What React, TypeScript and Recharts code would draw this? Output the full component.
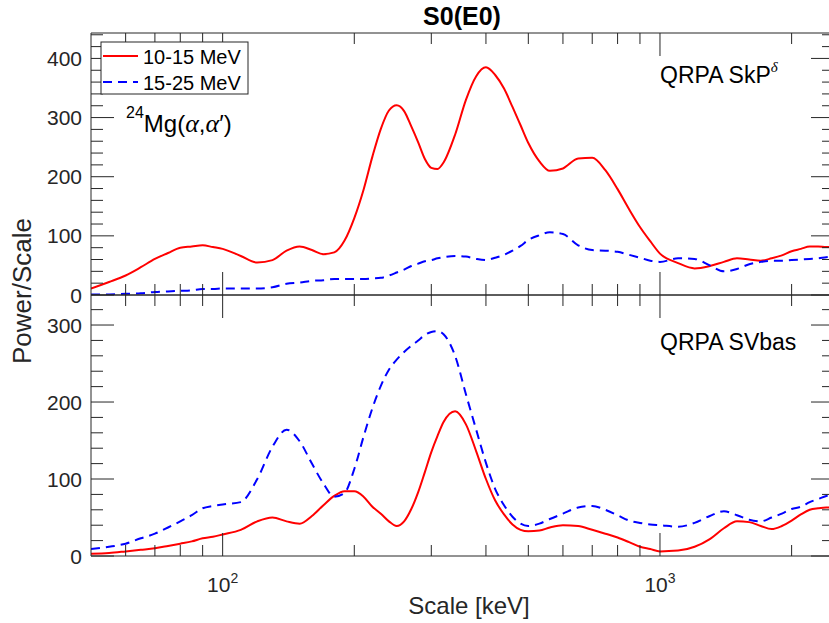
import { LineChart, Line, XAxis, YAxis } from 'recharts';

// scale axis (keV), shared by both panels
const scaleKeV = [
  50, 55, 60, 65, 70, 75, 80, 85, 90, 95,
  100, 110, 120, 130, 140, 150, 160, 170, 180, 190,
  200, 210, 220, 230, 240, 250, 260, 270, 280, 290,
  300, 310, 320, 340, 360, 380, 400, 420, 440, 460,
  480, 500, 530, 560, 600, 650, 700, 750, 800, 850,
  900, 950, 1000, 1100, 1200, 1300, 1400, 1500, 1600, 1700,
  1800, 1900, 2000, 2100, 2200, 2300, 2400, 2500,
];

// QRPA SkP^delta panel
const skpLow = [
  11, 22, 33, 47, 61, 71, 80, 82, 84, 81,
  78, 66, 55, 59, 75, 82, 76, 69, 72, 92,
  130, 178, 234, 281, 312, 321, 311, 285, 258, 230,
  215, 213, 224, 271, 330, 370, 385, 372, 349, 318,
  287, 257, 226, 210, 214, 231, 232, 211, 179, 145,
  115, 91, 70, 54, 45, 49, 56, 62, 60, 58,
  62, 67, 74, 78, 82, 82, 81, 81,
];
const skpHigh = [
  1, 1, 2, 3, 5, 6, 7, 8, 10, 10,
  11, 11, 11, 13, 19, 21, 24, 25, 27, 27,
  27, 27, 28, 29, 33, 38, 43, 49, 53, 57,
  59, 62, 64, 66, 65, 61, 59, 63, 68, 75,
  83, 93, 101, 106, 103, 84, 76, 75, 73, 68,
  63, 58, 56, 62, 61, 50, 40, 44, 52, 56,
  58, 58, 59, 60, 61, 62, 64, 65,
];

// QRPA SVbas panel
const svbasLow = [
  3, 4, 6, 8, 10, 13, 16, 19, 23, 25,
  28, 34, 45, 50, 45, 42, 52, 66, 78, 84,
  84, 77, 64, 55, 45, 39, 45, 61, 83, 109,
  135, 156, 174, 188, 171, 136, 100, 72, 54, 41,
  34, 32, 33, 37, 40, 39, 34, 29, 24, 18,
  12, 9, 6, 7, 12, 22, 36, 45, 44, 39,
  35, 39, 46, 54, 60, 62, 63, 63,
];
const svbasHigh = [
  9, 12, 16, 23, 29, 37, 45, 53, 62, 65,
  67, 70, 100, 142, 164, 149, 120, 94, 77, 82,
  113, 155, 192, 221, 242, 255, 265, 273, 280, 287,
  291, 292, 288, 260, 210, 164, 121, 87, 66, 51,
  42, 39, 42, 48, 55, 63, 65, 60, 53, 46,
  43, 41, 40, 38, 43, 52, 58, 53, 47, 45,
  50, 55, 61, 64, 70, 74, 78, 80,
];

const xTicks = [60, 70, 80, 90, 100, 200, 300, 400, 500, 600, 700, 800, 900, 1000, 2000];
const topYTicks = [0, 20, 40, 60, 80, 100, 120, 140, 160, 180, 200, 220, 240, 260, 280, 300, 320, 340, 360, 380, 400, 420, 440];
const bottomYTicks = [0, 20, 40, 60, 80, 100, 120, 140, 160, 180, 200, 220, 240, 260, 280, 300, 320];

const topData = scaleKeV.map((keV, i) => ({ keV, low: skpLow[i], high: skpHigh[i] }));
const bottomData = scaleKeV.map((keV, i) => ({ keV, low: svbasLow[i], high: svbasHigh[i] }));

const AXIS = '#262626';
const FONT = '"Liberation Sans", Arial, sans-serif';
const SERIF = '"Liberation Serif", "DejaVu Serif", serif';
const H = 623;

function xTick(dir: number, label: boolean) {
  return (p: any) => {
    const v = p.payload.value;
    const major = v === 100 || v === 1000;
    const len = major ? 23 : 11;
    return (
      <g>
        <line x1={p.x} x2={p.x} y1={p.y} y2={p.y + dir * len} stroke={AXIS} strokeWidth={1} />
        {label && major && (
          <text x={p.x} y={p.y + 36} textAnchor="middle" fill={AXIS} fontSize={21} fontFamily={FONT}>
            10<tspan dy={-9} fontSize={14}>{v === 100 ? '2' : '3'}</tspan>
          </text>
        )}
      </g>
    );
  };
}

function yTick(dir: number, label: boolean) {
  return (p: any) => {
    const v = p.payload.value;
    const major = v % 100 === 0;
    const len = major ? 23 : 12;
    return (
      <g>
        <line x1={p.x} x2={p.x + dir * len} y1={p.y} y2={p.y} stroke={AXIS} strokeWidth={1} />
        {label && major && (
          <text x={p.x - 9} y={p.y + 7.5} textAnchor="end" fill={AXIS} fontSize={21} fontFamily={FONT}>
            {v}
          </text>
        )}
      </g>
    );
  };
}

function Panel({ data, yMax, yTicks, top, bottom }: { data: any[]; yMax: number; yTicks: number[]; top: number; bottom: number }) {
  return (
    <div style={{ position: 'absolute', left: 0, top: 0 }}>
      <LineChart width={860} height={H} data={data} margin={{ top: top - 1, right: 25, bottom: H - bottom - 1, left: 0 }}>
        <XAxis xAxisId="b" dataKey="keV" type="number" scale="log" domain={[50, 2500]} allowDataOverflow
          ticks={xTicks} interval={0} height={1} tickSize={0} tickMargin={0} tickLine={false}
          axisLine={{ stroke: AXIS }} tick={xTick(-1, bottom > 400)} />
        <XAxis xAxisId="t" orientation="top" dataKey="keV" type="number" scale="log" domain={[50, 2500]} allowDataOverflow
          ticks={xTicks} interval={0} height={1} tickSize={0} tickMargin={0} tickLine={false}
          axisLine={{ stroke: AXIS }} tick={xTick(1, false)} />
        <YAxis yAxisId="l" type="number" domain={[0, yMax]} allowDataOverflow ticks={yTicks} interval={0}
          width={91} tickSize={0} tickMargin={0} tickLine={false} axisLine={{ stroke: AXIS }} tick={yTick(1, true)} />
        <YAxis yAxisId="r" orientation="right" type="number" domain={[0, yMax]} allowDataOverflow ticks={yTicks} interval={0}
          width={1} tickSize={0} tickMargin={0} tickLine={false} axisLine={{ stroke: AXIS }} tick={yTick(-1, false)} />
        <Line xAxisId="b" yAxisId="l" type="monotone" dataKey="low" stroke="#ff0000" strokeWidth={2} dot={false} isAnimationActive={false} />
        <Line xAxisId="b" yAxisId="l" type="monotone" dataKey="high" stroke="#0000ff" strokeWidth={2} strokeDasharray="9 6" dot={false} isAnimationActive={false} />
      </LineChart>
    </div>
  );
}

export default function App() {
  return (
    <div style={{ position: 'absolute', left: 0, top: 0, width: 829, height: 623, overflow: 'hidden', background: '#fff', fontFamily: FONT }}>
      <Panel data={topData} yMax={443} yTicks={topYTicks} top={33} bottom={295} />
      <Panel data={bottomData} yMax={339} yTicks={bottomYTicks} top={295} bottom={556} />
      <svg width={829} height={623} style={{ position: 'absolute', left: 0, top: 0, pointerEvents: 'none' }}>
        <text x={462} y={25} textAnchor="middle" fontSize={25} fontWeight="bold" fill="#000" fontFamily={FONT}>S0(E0)</text>
        <text x={31} y={291} transform="rotate(-90, 31, 291)" textAnchor="middle" fontSize={26} fill={AXIS} fontFamily={FONT}>Power/Scale</text>
        <text x={469} y={614} textAnchor="middle" fontSize={24} fill={AXIS} fontFamily={FONT}>Scale [keV]</text>

        <rect x={101} y={42} width={147} height={52} fill="#fff" stroke={AXIS} strokeWidth={1} />
        <line x1={103} x2={138} y1={56} y2={56} stroke="#ff0000" strokeWidth={2} />
        <text x={143} y={64} fontSize={20} fill="#000" fontFamily={FONT}>10-15 MeV</text>
        <line x1={103} x2={138} y1={82} y2={82} stroke="#0000ff" strokeWidth={2} strokeDasharray="9 6" />
        <text x={143} y={90} fontSize={20} fill="#000" fontFamily={FONT}>15-25 MeV</text>

        <text x={126} y={132} fontSize={24} fill="#000" fontFamily={FONT}>
          <tspan fontSize={16} dy={-14}>24</tspan>
          <tspan dy={14}>Mg(</tspan>
          <tspan fontFamily={SERIF} fontStyle="italic" fontSize={26}>α</tspan>
          <tspan>,</tspan>
          <tspan fontFamily={SERIF} fontStyle="italic" fontSize={26}>α</tspan>
          <tspan>′)</tspan>
        </text>
        <text x={660} y={83} fontSize={23} fill="#000" fontFamily={FONT}>
          QRPA SkP<tspan dy={-11} fontSize={15} fontFamily={SERIF} fontStyle="italic">δ</tspan>
        </text>
        <text x={660} y={350} fontSize={23} fill="#000" fontFamily={FONT}>QRPA SVbas</text>
      </svg>
    </div>
  );
}
